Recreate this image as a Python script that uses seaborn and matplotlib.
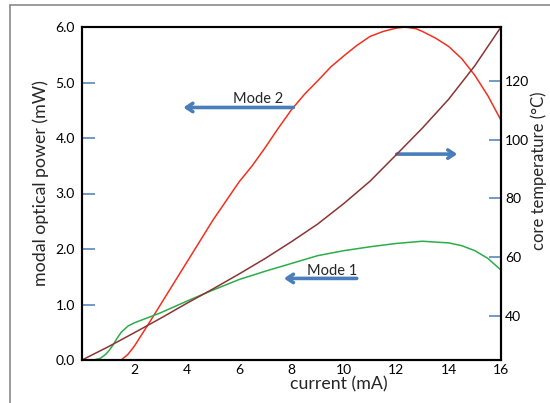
import matplotlib
matplotlib.use("Agg")
import matplotlib.pyplot as plt
from matplotlib.lines import Line2D
import seaborn as sns
import pandas as pd

# Mode 2 modal optical power (mW) vs current (mA)
mode2_current = [1.5, 1.75, 2, 2.5, 3, 4, 5, 6, 6.5, 7, 7.5, 8, 8.5, 9, 9.5, 10, 10.5, 11,
                 11.5, 12, 12.33, 12.75, 13, 13.5, 14, 14.5, 15, 15.5, 16]
mode2_power = [0.0, 0.10, 0.25, 0.62, 1.0, 1.76, 2.52, 3.21, 3.50, 3.83, 4.18, 4.51, 4.79,
               5.03, 5.28, 5.48, 5.67, 5.83, 5.92, 5.98, 6.0, 5.97, 5.92, 5.80, 5.65, 5.43,
               5.13, 4.76, 4.32]

# Mode 1 modal optical power (mW) vs current (mA)
mode1_current = [0.45, 0.7, 0.9, 1.05, 1.2, 1.35, 1.5, 1.75, 2, 2.5, 3, 4, 5, 6, 7, 8, 9,
                 10, 11, 12, 13, 14, 14.5, 15, 15.5, 16]
mode1_power = [0.0, 0.03, 0.10, 0.18, 0.28, 0.40, 0.50, 0.61, 0.67, 0.76, 0.85, 1.06, 1.26,
               1.45, 1.60, 1.74, 1.88, 1.97, 2.04, 2.10, 2.14, 2.11, 2.06, 1.97, 1.83, 1.62]

# Core temperature (°C) vs current (mA)
temp_current = [0, 1, 2, 3, 4, 5, 6, 7, 8, 9, 10, 11, 12, 13, 14, 15, 16]
temp_core = [25.0, 29.5, 34.3, 39.2, 44.3, 49.2, 54.3, 59.6, 65.3, 71.3, 78.3, 85.9,
             94.9, 104.0, 113.8, 125.2, 138.4]

power_ticks = [0, 1, 2, 3, 4, 5, 6]
temp_ticks = [40, 60, 80, 100, 120]
current_ticks = [2, 4, 6, 8, 10, 12, 14, 16]

df2 = pd.DataFrame({"current": mode2_current, "power": mode2_power})
df1 = pd.DataFrame({"current": mode1_current, "power": mode1_power})
dft = pd.DataFrame({"current": temp_current, "temp": temp_core})

sns.set_style("white")
plt.rcParams["font.family"] = ["Lato", "DejaVu Sans"]

TICK_BLUE = "#4a7ebb"
ARROW_BLUE = "#4a7ebb"

fig = plt.figure(figsize=(5.5, 4.03), dpi=100)
ax = fig.add_axes([82 / 550, 43 / 403, 419 / 550, 333 / 403])
ax2 = ax.twinx()

sns.lineplot(data=df2, x="current", y="power", ax=ax, color="#f2301f", lw=1.1,
             sort=False, estimator=None)
sns.lineplot(data=df1, x="current", y="power", ax=ax, color="#2aae4a", lw=1.1,
             sort=False, estimator=None)
sns.lineplot(data=dft, x="current", y="temp", ax=ax2, color="#8c3434", lw=1.1,
             sort=False, estimator=None)

ax.set_xlim(0, 16)
ax.set_ylim(0, 6)
ax2.set_ylim(25, 138.4)

ax.set_xticks(current_ticks)
ax.set_xticklabels([str(t) for t in current_ticks])
ax.set_yticks(power_ticks)
ax.set_yticklabels([f"{t:.1f}" for t in power_ticks])
ax2.set_yticks(temp_ticks)
ax2.set_yticklabels([str(t) for t in temp_ticks])

for a in (ax, ax2):
    a.tick_params(axis="both", direction="in", length=9, width=1.1, color=TICK_BLUE,
                  labelsize=10, labelcolor="black")
    for s in a.spines.values():
        s.set_color("black")
        s.set_linewidth(1.5)
ax.tick_params(axis="x", pad=3)
ax.tick_params(axis="y", pad=5)
ax2.tick_params(axis="y", pad=3)
ax.spines["top"].set_color("#333333")

ax.set_xlabel("current (mA)", fontsize=12.8)
ax.set_ylabel("modal optical power (mW)", fontsize=12.8)
ax2.set_ylabel("core temperature (°C)", fontsize=12)
ax.xaxis.label.set_va("center")
ax.yaxis.label.set_va("center")
ax2.yaxis.label.set_va("center")
ax.xaxis.set_label_coords(0.612, -0.072)
ax.yaxis.set_label_coords(-0.098, 0.53)
ax2.yaxis.set_label_coords(1.09, 0.567)

arrow = dict(arrowstyle="->,head_length=0.45,head_width=0.3", color=ARROW_BLUE, lw=2.6,
             shrinkA=0, shrinkB=0)
ax.annotate("", xy=(3.87, 4.55), xytext=(8.07, 4.55), arrowprops=arrow)
ax.annotate("", xy=(7.71, 1.47), xytext=(10.49, 1.47), arrowprops=arrow)
ax.annotate("", xy=(14.33, 3.71), xytext=(12.02, 3.71), arrowprops=arrow)
ax.text(6.73, 4.70, "Mode 2", fontsize=10.5, ha="center", va="center")
ax.text(9.55, 1.61, "Mode 1", fontsize=10.5, ha="center", va="center")

# outer grey frame
fig.add_artist(Line2D([10 / 550, 10 / 550], [0, 1 - 5 / 403], color="#8a8a8a", lw=1.2,
                      transform=fig.transFigure))
fig.add_artist(Line2D([10 / 550, 1], [1 - 5 / 403, 1 - 5 / 403], color="#8a8a8a", lw=1.2,
                      transform=fig.transFigure))

fig.savefig("out.png", dpi=100)
